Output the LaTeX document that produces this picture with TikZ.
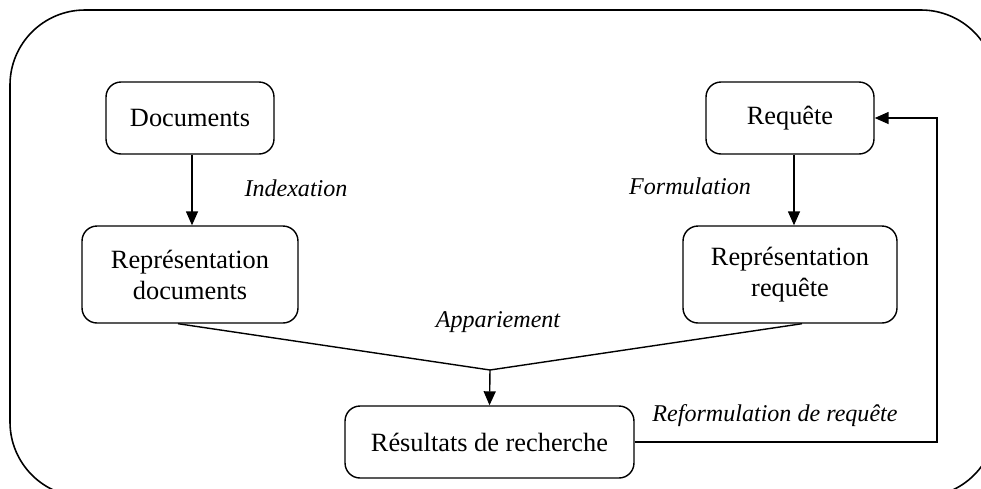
\documentclass[tikz,border=0pt]{standalone}
\usepackage{fontspec}
\setmainfont{Liberation Serif}
\usetikzlibrary{arrows.meta}

\tikzset{
	boite/.style={draw, rounded corners=0.3cm, line width=0.8pt, align=center, inner sep=0pt, font=\fontsize{15}{17.6}\selectfont},
	etiq/.style={font=\fontsize{13.7}{16}\selectfont\itshape},
	fleche/.style={line width=0.8pt, -{Triangle[width=0.24cm,length=0.28cm]}},
	trait/.style={line width=0.8pt}
}

\begin{document}
\begin{tikzpicture}[x=0.02cm,y=-0.02cm]
	\useasboundingbox (0,0) rectangle (981,488);
	\clip (0,0) rectangle (981,488);
	% cadre
	\draw[line width=0.9pt, rounded corners=1.5cm] (10,10) rectangle (996,497);
	% boites
	\node[boite, minimum width=3.36cm, minimum height=1.44cm] (doc) at (190,118) {Documents};
	\node[boite, minimum width=3.36cm, minimum height=1.44cm] (req) at (790,118) {Requête};
	\node[boite, minimum width=4.32cm, minimum height=1.94cm] (repdoc) at (190,274.5) {Représentation\\documents};
	\node[boite, minimum width=4.28cm, minimum height=1.94cm] (repreq) at (790,274.5) {Représentation\\requête};
	\node[boite, minimum width=5.78cm, minimum height=1.44cm] (res) at (489.5,442) {Résultats de recherche};
	% etiquettes
	\node[etiq] (idx) at (296,188) {Indexation};
	\node[etiq] (form) at (690,186) {Formulation};
	\node[etiq] (app) at (498,322) {Appariement};
	\node[etiq] (reform) at (775,416) {Reformulation de requête};
	% liens
	\coordinate (jonc) at (490,370);
	\coordinate (retour) at (937,118);
	\draw[fleche] (doc.south -| 192,0) -- (repdoc.north -| 192,0);
	\draw[fleche] (req.south -| 794,0) -- (repreq.north -| 794,0);
	\draw[trait] ([xshift=-0.24cm]repdoc.south) -- (jonc);
	\draw[trait] ([xshift=0.24cm]repreq.south) -- (jonc);
	\draw[fleche] (jonc) -- (res.north);
	\draw[fleche] (res.east) -| (retour) -- (req.east);
\end{tikzpicture}
\end{document}
